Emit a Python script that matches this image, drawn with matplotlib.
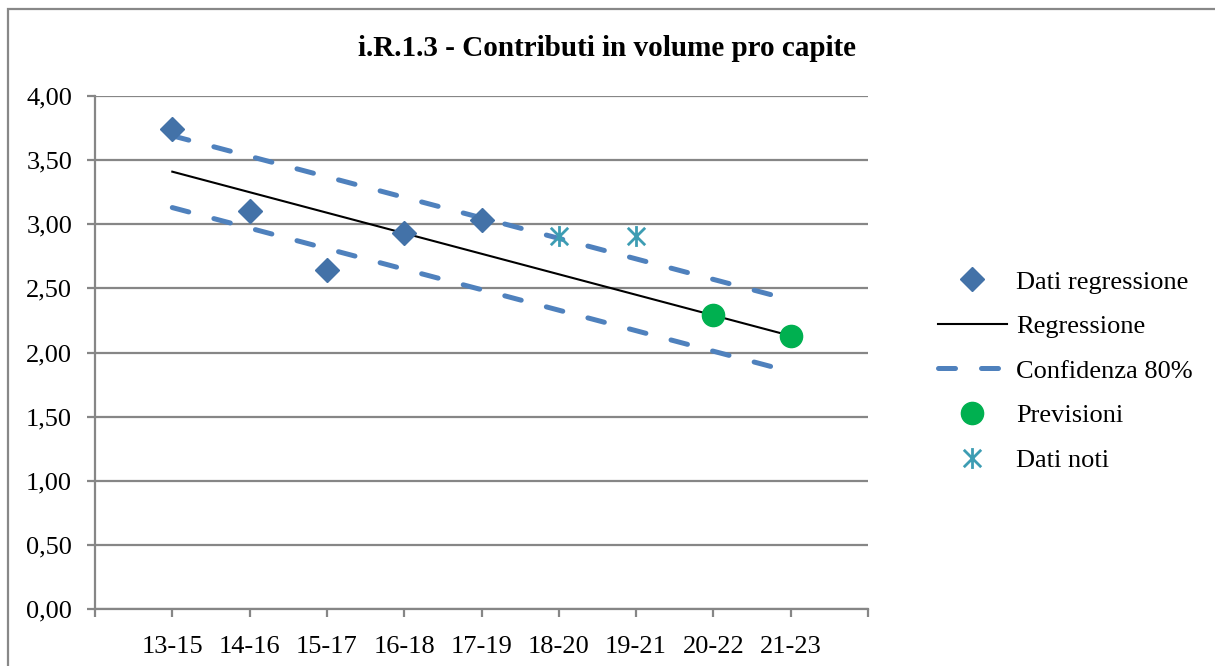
import matplotlib
matplotlib.use("Agg")
import matplotlib.pyplot as plt
from matplotlib.path import Path
from matplotlib.patches import Rectangle
from matplotlib.ticker import FuncFormatter, MultipleLocator

# categories (triennial periods) and series
periodi = ["13-15", "14-16", "15-17", "16-18", "17-19", "18-20", "19-21", "20-22", "21-23"]
dati_regressione = [3.74, 3.10, 2.64, 2.93, 3.03]
regressione = [3.41, 3.25, 3.09, 2.93, 2.77, 2.61, 2.45, 2.29, 2.13]
conf_sup = [3.69, 3.53, 3.37, 3.21, 3.05, 2.89, 2.73, 2.57, 2.41]
conf_inf = [3.13, 2.97, 2.81, 2.65, 2.49, 2.33, 2.17, 2.01, 1.85]
previsioni_idx = [7, 8]
previsioni = [2.29, 2.13]
noti_idx = [5, 6]
dati_noti = [2.91, 2.91]

plt.rcParams['font.family'] = ['Liberation Serif', 'DejaVu Serif']

fig = plt.figure(figsize=(12.15, 6.66), dpi=100)
ax = fig.add_axes([95 / 1215, 57 / 666, 773 / 1215, 513 / 666])

# outer chart frame (only left/top visible in the original)
fig.patches.append(Rectangle((8 / 1215, -0.05), 1.2, 1 - 9 / 666 + 0.05,
                             transform=fig.transFigure, fill=False,
                             edgecolor="#888888", linewidth=1.6, zorder=0))

x_all = list(range(1, len(periodi) + 1))

# star marker: X plus vertical bar, like Excel's
star = Path([(-1, -1), (1, 1), (-1, 1), (1, -1), (0, -1.2), (0, 1.2)],
            [Path.MOVETO, Path.LINETO, Path.MOVETO, Path.LINETO, Path.MOVETO, Path.LINETO])

dash = (3.4, 5.2)
ax.plot(x_all[:len(dati_regressione)], dati_regressione, linestyle="none", marker="D",
        markersize=12, color="#4372A8", label="Dati regressione", zorder=5)
ax.plot(x_all, regressione, color="black", linewidth=1.5, label="Regressione", zorder=3)
ax.plot(x_all, conf_sup, color="#4F81BD", linewidth=3.6, dashes=dash,
        dash_capstyle="round", label="Confidenza 80%", zorder=4)
ax.plot(x_all, conf_inf, color="#4F81BD", linewidth=3.6, dashes=dash,
        dash_capstyle="round", zorder=4)
ax.plot([x_all[i] for i in previsioni_idx], previsioni, linestyle="none", marker="o",
        markersize=16, color="#00B050", label="Previsioni", zorder=6)
ax.plot([x_all[i] for i in noti_idx], dati_noti, linestyle="none", marker=star,
        markersize=15, markeredgewidth=2, color="#3D9DB3", label="Dati noti", zorder=6)

ax.set_xlim(0, 10)
ax.set_ylim(0, 4)
ax.yaxis.set_major_locator(MultipleLocator(0.5))
ax.yaxis.set_major_formatter(FuncFormatter(lambda v, p: f"{v:.2f}".replace(".", ",")))
ax.set_xticks(range(0, 11))
ax.set_xticklabels([""] + periodi + [""])
ax.grid(axis="y", color="#868686", linewidth=1.6)
ax.set_axisbelow(True)

for side in ["top", "right"]:
    ax.spines[side].set_visible(False)
for side in ["left", "bottom"]:
    ax.spines[side].set_color("#868686")
    ax.spines[side].set_linewidth(1.6)

ax.tick_params(axis="both", colors="#868686", width=1.6, length=5.5, labelcolor="black",
               labelsize=19)
ax.tick_params(axis="x", pad=14)
ax.tick_params(axis="y", pad=11)

fig.text(0.5, 1 - 48 / 666, "i.R.1.3 - Contributi in volume pro capite",
         ha="center", va="center", fontsize=21, fontweight="bold")

leg = ax.legend(loc="center left", bbox_to_anchor=(1.06, 0.464), frameon=False,
                fontsize=19, handlelength=2.6, labelspacing=0.8, handletextpad=0.35)

fig.savefig("out.png", dpi=100)
